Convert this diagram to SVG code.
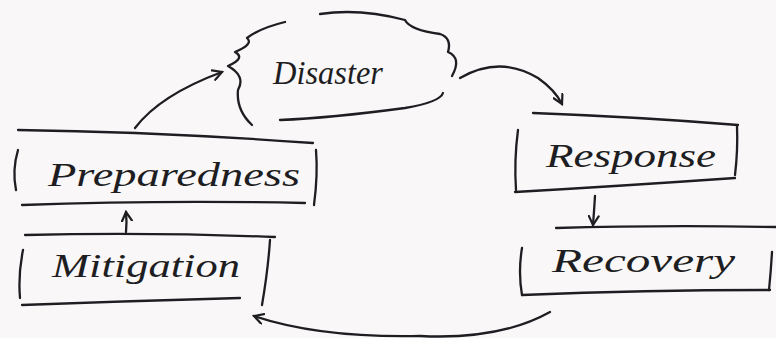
<svg xmlns="http://www.w3.org/2000/svg" width="776" height="338" viewBox="0 0 776 338">
<defs>
<style>
.ln{fill:none;stroke:#1e1e22;stroke-width:2.3;stroke-linecap:round;stroke-linejoin:round}
.t{font-family:"Liberation Serif",serif;font-style:italic;fill:#1e1e22;font-size:34px}
</style>
<marker id="ah" viewBox="0 0 12 12" refX="10" refY="6" markerWidth="12" markerHeight="12" markerUnits="userSpaceOnUse" orient="auto">
<path d="M1,1 L10,6 L1,11" fill="none" stroke="#1e1e22" stroke-width="2.2" stroke-linecap="round"/>
</marker>
</defs>
<rect width="776" height="338" fill="#f9f7f8"/>
<g id="disaster">
<path class="ln" d="M285,22 Q260,28 247,38 Q254,44 235,52 Q246,58 228,66 Q246,76 238,90 Q236,110 252,125"/>
<path class="ln" d="M320,14 Q360,8 405,20 Q410,30 440,34 Q452,38 448,52 Q462,58 452,76"/>
<path class="ln" d="M280,120 Q330,118 405,108 Q440,102 443,93"/>
<text class="t" x="273" y="84" textLength="110" lengthAdjust="spacingAndGlyphs">Disaster</text>
</g>
<g id="preparedness">
<path class="ln" d="M18,130 Q160,132 313,143"/>
<path class="ln" d="M18,150 Q12,170 16,190"/>
<path class="ln" d="M22,205 Q160,200 305,203"/>
<path class="ln" d="M316,150 Q318,175 314,205"/>
<text class="t" x="48" y="186" textLength="252" lengthAdjust="spacingAndGlyphs">Preparedness</text>
</g>
<g id="mitigation">
<path class="ln" d="M25,235 Q150,232 275,237"/>
<path class="ln" d="M23,250 Q18,275 20,298"/>
<path class="ln" d="M22,305 Q130,301 240,298"/>
<path class="ln" d="M270,240 Q268,270 262,305"/>
<text class="t" x="52" y="277" textLength="188" lengthAdjust="spacingAndGlyphs">Mitigation</text>
</g>
<g id="response">
<path class="ln" d="M533,113 Q640,117 738,125"/>
<path class="ln" d="M518,130 Q514,160 516,190"/>
<path class="ln" d="M515,192 Q620,186 735,178"/>
<path class="ln" d="M737,126 Q738,150 735,175"/>
<text class="t" x="546" y="167" textLength="170" lengthAdjust="spacingAndGlyphs">Response</text>
</g>
<g id="recovery">
<path class="ln" d="M556,228 Q660,225 776,227"/>
<path class="ln" d="M522,248 Q518,272 522,295"/>
<path class="ln" d="M522,295 Q650,290 770,290"/>
<path class="ln" d="M772,252 Q771,270 769,290"/>
<text class="t" x="552" y="272" textLength="183" lengthAdjust="spacingAndGlyphs">Recovery</text>
</g>
<g id="connectors">
<path class="ln" d="M135,128 Q160,95 222,72" marker-end="url(#ah)"/>
<path class="ln" d="M460,78 Q500,55 538,78 Q555,90 562,104" marker-end="url(#ah)"/>
<path class="ln" d="M595,196 Q594,212 593,225" marker-end="url(#ah)"/>
<path class="ln" d="M126,232 Q127,222 126,212" marker-end="url(#ah)"/>
<path class="ln" d="M550,312 Q500,340 420,336 Q320,338 254,316" marker-end="url(#ah)"/>
</g>
</svg>
